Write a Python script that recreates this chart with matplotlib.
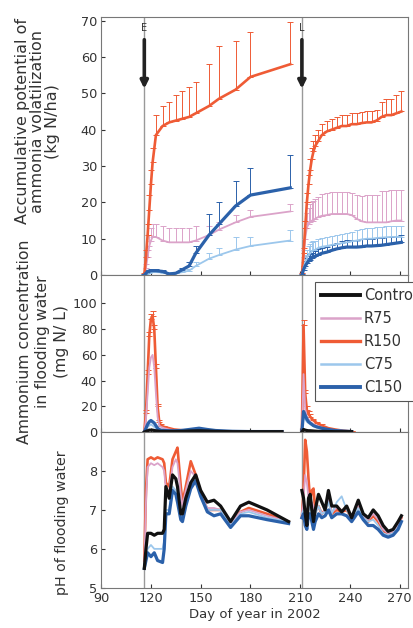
import matplotlib
matplotlib.use("Agg")
import matplotlib.pyplot as plt

# ---- accumulative NH3 volatilization (kg N/ha), early season ----
vol_days_e = [116, 117, 118, 119, 120, 121, 123, 127, 131, 135, 139, 143, 147, 155, 161, 171, 180, 204]
vol_e_R75 = [0, 2, 5, 8, 9.5, 10.5, 10.5, 9.5, 9, 9, 9, 9, 9.5, 11, 12.5, 14.5, 16, 17.5]
err_e_R75 = [0.3, 1, 2, 3, 3.5, 3.5, 3.5, 4, 4, 4, 4, 4, 4, 2.5, 2, 2, 2, 2]
vol_e_R150 = [0, 5, 11, 18, 25, 31, 38.5, 41, 42, 42.5, 43, 43.5, 44.5, 46.5, 48.5, 51, 54.5, 58]
err_e_R150 = [0.5, 2, 3, 4, 4, 4, 5.5, 5.5, 5.5, 7, 7.5, 8.3, 8.7, 11.5, 14.5, 13.5, 12.3, 11.5]
vol_e_C75 = [0, 0.3, 0.5, 0.7, 0.8, 0.8, 0.8, 0.7, 0.5, 0.5, 0.8, 1.2, 2.5, 4.5, 5.5, 7, 8, 9.5]
err_e_C75 = [0.2, 0.3, 0.3, 0.3, 0.3, 0.3, 0.3, 0.3, 0.3, 0.3, 0.4, 0.5, 1, 1.5, 2, 3.5, 2.5, 3]
vol_e_C150 = [0, 0.5, 1, 1, 1.2, 1.2, 1.2, 1, 0.3, 0.5, 1.5, 2.5, 6, 11, 14, 19, 22, 24]
err_e_C150 = [0.2, 0.3, 0.4, 0.4, 0.4, 0.4, 0.4, 0.4, 0.4, 0.4, 0.5, 1, 2, 5.8, 6, 7, 7.5, 9]

# ---- late season ----
vol_days_l = [211, 212, 213, 214, 215, 216, 217, 218, 219, 221, 223, 226, 229, 232, 235, 238, 241, 244, 247, 250, 253, 256, 259, 262, 265, 268, 271]
vol_l_R75 = [0, 5, 10, 13, 14, 14.5, 15, 15, 15.5, 16, 16.3, 16.5, 16.8, 16.8, 16.8, 16.8, 16.5, 15.5, 14.8, 14.5, 14.5, 14.5, 14.5, 14.5, 14.8, 15, 15]
err_l_R75 = [0.5, 2, 3, 4, 4.5, 5, 5, 5.5, 5.5, 5.5, 6, 6, 6, 6, 6, 6, 6, 6.5, 7, 7.5, 7.5, 7.5, 8.5, 8.5, 8.5, 8.5, 8.5]
vol_l_R150 = [0, 6, 13, 20, 25, 29, 32, 34, 35.5, 37, 38.5, 39.5, 40, 40.5, 41, 41, 41.5, 41.5, 41.8, 42, 42, 42.5, 43.5, 44, 44, 44.5, 45]
err_l_R150 = [0.5, 1.5, 2, 2.5, 2.5, 3, 3, 3, 3, 3, 3, 3, 3, 3, 3, 3, 3, 3, 3, 3, 3, 3, 4, 4.5, 4.5, 5, 5.5]
vol_l_C75 = [0, 2, 3.5, 4.5, 5.5, 6, 6.5, 6.8, 7, 7.5, 7.8, 8, 8.3, 8.5, 8.8, 9, 9.3, 9.5, 9.8, 10, 10, 10.2, 10.3, 10.4, 10.5, 10.5, 10.5]
err_l_C75 = [0.3, 1.5, 2, 2.5, 2.5, 2.5, 2.5, 2.5, 2.5, 2.5, 2.5, 2.5, 2.5, 2.5, 2.5, 2.5, 2.5, 3, 3, 3, 3, 3, 3, 3, 3, 3, 3]
vol_l_C150 = [0, 1.5, 2.5, 3.2, 3.8, 4.2, 4.6, 5, 5.2, 5.6, 6, 6.3, 6.8, 7.2, 7.5, 7.7, 7.7, 7.7, 7.8, 8, 8, 8.1, 8.2, 8.4, 8.6, 8.8, 9]
err_l_C150 = [0.3, 1, 1.5, 1.5, 1.5, 1.5, 1.5, 1.5, 1.5, 1.5, 1.5, 1.5, 1.5, 1.5, 1.8, 2, 2, 2, 2, 2, 2, 2, 2, 2, 2, 2, 2]

# ---- ammonium concentration in flooding water (mg N/L) ----
nh4_days_e = [116, 117, 118, 119, 120, 121, 122, 123, 124, 125, 126, 128, 131, 134, 138, 143, 149, 154, 159, 169, 179, 189, 199]
nh4_e_Control = [0, 0.5, 1, 1.5, 1.5, 1.5, 1.2, 1, 0.8, 0.6, 0.5, 0.5, 0.5, 0.5, 0.5, 0.8, 1, 0.8, 0.5, 0.3, 0.3, 0.3, 0.3]
nh4_e_R75 = [0, 10, 30, 50, 58, 60, 50, 30, 12, 5, 4, 3, 2, 1.5, 1, 1, 0.8, 0.5, 0.3, 0.2, 0.2, 0.2, 0.2]
nh4_e_R150 = [0, 15, 45, 75, 88, 90, 80, 50, 20, 8, 5, 4, 3, 2, 1.5, 1, 1, 0.8, 0.5, 0.3, 0.2, 0.2, 0.2]
nh4_e_C75 = [0, 2, 4, 5, 6, 5, 4, 3, 2, 1.5, 1.2, 1, 0.8, 0.8, 1, 1.5, 2, 1.5, 1, 0.5, 0.3, 0.3, 0.3]
nh4_e_C150 = [0, 3, 6, 8, 9, 8, 7, 5, 3, 2, 1.5, 1.2, 1, 1, 1.2, 2, 3, 2, 1.2, 0.6, 0.4, 0.4, 0.4]
nh4_err_e_R150 = [0, 2, 3, 3, 4, 4, 3, 3, 2, 1, 1, 1, 0.5, 0.5, 0, 0, 0, 0, 0, 0, 0, 0, 0]

nh4_days_l = [211, 212, 213, 214, 215, 216, 218, 220, 223, 227, 231, 236, 241]
nh4_l_Control = [0, 2, 1.5, 1.2, 1, 1, 0.8, 0.6, 0.5, 0.4, 0.3, 0.3, 0.3]
nh4_l_R75 = [0, 45, 18, 12, 10, 8, 6, 5, 3.5, 2, 1.5, 0.8, 0.4]
nh4_l_R150 = [0, 83, 30, 17, 14, 12, 9, 7, 5, 3, 2, 1, 0.5]
nh4_l_C75 = [0, 12, 10, 8, 7, 6, 4.5, 3.5, 2.5, 1.5, 1, 0.6, 0.3]
nh4_l_C150 = [0, 16, 13, 10, 8, 7, 5, 4, 3, 2, 1.2, 0.8, 0.4]
nh4_err_l_R150 = [0, 4, 3, 3, 2, 2, 1.5, 1, 1, 0.5, 0.5, 0, 0]

# ---- pH of flooding water ----
ph_days_e = [116, 117, 118, 120, 122, 124, 127, 128, 129, 131, 133, 135, 136, 138, 139, 141, 144, 147, 150, 154, 158, 162, 168, 174, 179, 190, 203]
ph_e_Control = [5.5, 6.0, 6.4, 6.4, 6.35, 6.4, 6.4, 6.5, 7.6, 7.3, 7.9, 7.8, 7.6, 6.9, 6.9, 7.3, 7.7, 7.9, 7.5, 7.2, 7.25, 7.1, 6.7, 7.1, 7.2, 7.0, 6.7]
ph_e_R75 = [5.6, 7.2, 8.1, 8.2, 8.15, 8.2, 8.1, 8.0, 7.5, 7.5, 8.1, 8.3, 8.2, 7.4, 7.1, 7.5, 8.0, 7.85, 7.4, 7.05, 7.05, 7.0, 6.65, 6.95, 7.0, 6.85, 6.7]
ph_e_R150 = [5.7, 7.5, 8.3, 8.35, 8.3, 8.35, 8.3, 8.2, 7.7, 7.6, 8.3, 8.5, 8.6, 7.6, 7.2, 7.6, 8.25, 7.9, 7.45, 7.0, 7.0, 7.0, 6.65, 6.95, 7.05, 6.9, 6.7]
ph_e_C75 = [5.6, 5.8, 6.0, 6.1, 6.0, 6.0, 6.0, 6.2, 7.0, 7.0, 7.6, 7.5, 7.3, 6.8, 6.75, 7.1, 7.6, 7.8, 7.4, 7.0, 7.0, 7.0, 6.6, 6.9, 6.95, 6.8, 6.7]
ph_e_C150 = [5.5, 5.7, 5.9, 5.8, 5.9, 5.7, 5.65, 6.0, 6.9, 6.9, 7.5, 7.4, 7.2, 6.75, 6.7, 7.1, 7.55, 7.75, 7.35, 6.95, 6.85, 6.9, 6.55, 6.85, 6.85, 6.75, 6.65]

ph_days_l = [211, 212, 213, 214, 215, 216, 217, 218, 219, 221, 223, 225, 227, 229, 232, 235, 238, 241, 245, 248, 251, 254, 257, 260, 263, 266, 269, 271]
ph_l_Control = [7.5, 7.3, 6.9, 6.6, 7.3, 7.4, 7.0, 6.7, 7.0, 7.4, 7.2, 7.0, 7.5, 7.1, 7.1, 6.95, 7.1, 6.8, 7.25, 6.9, 6.8, 7.0, 6.85, 6.6, 6.45, 6.5, 6.7, 6.85]
ph_l_R75 = [6.9, 7.3, 7.9, 7.7, 7.3, 7.1, 7.2, 7.1, 6.9, 7.1, 6.9, 7.0, 7.3, 6.95, 7.05, 7.0, 7.05, 6.8, 7.15, 6.85, 6.75, 6.9, 6.75, 6.5, 6.4, 6.45, 6.6, 6.8]
ph_l_R150 = [6.8, 7.5, 8.8, 8.5, 7.8, 7.2, 7.5, 7.55, 7.0, 7.1, 6.9, 7.0, 7.3, 6.9, 7.0, 6.95, 7.0, 6.8, 7.1, 6.85, 6.7, 6.85, 6.7, 6.45, 6.4, 6.45, 6.6, 6.8]
ph_l_C75 = [6.9, 7.0, 6.8, 6.7, 7.0, 7.1, 6.8, 6.7, 6.9, 7.1, 6.9, 6.95, 7.2, 6.9, 7.2, 7.35, 7.0, 6.8, 7.05, 6.8, 6.7, 6.75, 6.6, 6.4, 6.35, 6.4, 6.55, 6.7]
ph_l_C150 = [6.8, 6.9, 6.6, 6.5, 6.9, 6.9, 6.7, 6.5, 6.7, 6.9, 6.8, 6.85, 7.0, 6.8, 6.9, 6.9, 6.85, 6.7, 6.95, 6.75, 6.6, 6.6, 6.5, 6.35, 6.3, 6.35, 6.5, 6.7]

treatments = ["Control", "R75", "R150", "C75", "C150"]
colors = {"Control": "#111111", "R75": "#dba3c9", "R150": "#ef5b35", "C75": "#9cc7ec", "C150": "#2b61aa"}
widths = {"Control": 2.3, "R75": 1.3, "R150": 1.9, "C75": 1.3, "C150": 2.3}
fert_days = [116, 211]
fert_marks = ["E", "L"]

plt.rcParams['font.family'] = ['DejaVu Sans']
txt = "#333333"

fig = plt.figure(figsize=(4.13, 6.28), dpi=100)
left, width = 0.245, 0.743
ax1 = fig.add_axes([left, 0.562, width, 0.411])
ax2 = fig.add_axes([left, 0.312, width, 0.250], sharex=ax1)
ax3 = fig.add_axes([left, 0.064, width, 0.248], sharex=ax1)


def upper_err(ax, x, y, e, name):
    ax.errorbar(x, y, yerr=[[0] * len(e), e], fmt='none', ecolor=colors[name],
                elinewidth=0.7, capsize=2.5, capthick=0.7, zorder=2)


# top panel
for name, ye, ee, yl, el in [
        ("R75", vol_e_R75, err_e_R75, vol_l_R75, err_l_R75),
        ("R150", vol_e_R150, err_e_R150, vol_l_R150, err_l_R150),
        ("C75", vol_e_C75, err_e_C75, vol_l_C75, err_l_C75),
        ("C150", vol_e_C150, err_e_C150, vol_l_C150, err_l_C150)]:
    upper_err(ax1, vol_days_e, ye, ee, name)
    upper_err(ax1, vol_days_l, yl, el, name)
    ax1.plot(vol_days_e, ye, color=colors[name], lw=widths[name], zorder=3)
    ax1.plot(vol_days_l, yl, color=colors[name], lw=widths[name], zorder=3)

# middle panel
nh4_e = {"Control": nh4_e_Control, "R75": nh4_e_R75, "R150": nh4_e_R150, "C75": nh4_e_C75, "C150": nh4_e_C150}
nh4_l = {"Control": nh4_l_Control, "R75": nh4_l_R75, "R150": nh4_l_R150, "C75": nh4_l_C75, "C150": nh4_l_C150}
upper_err(ax2, nh4_days_e, nh4_e_R150, nh4_err_e_R150, "R150")
upper_err(ax2, nh4_days_l, nh4_l_R150, nh4_err_l_R150, "R150")
for name in ["R150", "R75", "C75", "C150", "Control"]:
    ax2.plot(nh4_days_e, nh4_e[name], color=colors[name], lw=widths[name], zorder=3)
    ax2.plot(nh4_days_l, nh4_l[name], color=colors[name], lw=widths[name], zorder=3)

# bottom panel
ph_e = {"Control": ph_e_Control, "R75": ph_e_R75, "R150": ph_e_R150, "C75": ph_e_C75, "C150": ph_e_C150}
ph_l = {"Control": ph_l_Control, "R75": ph_l_R75, "R150": ph_l_R150, "C75": ph_l_C75, "C150": ph_l_C150}
for name in ["R150", "R75", "C75", "C150", "Control"]:
    ax3.plot(ph_days_e, ph_e[name], color=colors[name], lw=widths[name], zorder=3)
    ax3.plot(ph_days_l, ph_l[name], color=colors[name], lw=widths[name], zorder=3)

# fertilization lines and arrows
for ax in (ax1, ax2, ax3):
    for d in fert_days:
        ax.axvline(d, color="#999999", lw=1.0, zorder=1)
for d, m in zip(fert_days, fert_marks):
    ax1.annotate("", xy=(d, 50.5), xytext=(d, 65.5),
                 arrowprops=dict(arrowstyle="-|>", color="#222222", lw=2.6, mutation_scale=11))
    ax1.text(d, 66.5, m, ha="center", va="bottom", fontsize=7, color=txt)

ax1.set_xlim(90, 275)
ax1.set_ylim(0, 71)
ax1.set_yticks(range(0, 71, 10))
ax2.set_ylim(0, 122)
ax2.set_yticks(range(0, 101, 20))
ax3.set_ylim(5, 9)
ax3.set_yticks([5, 6, 7, 8])
ax3.set_xticks(range(90, 271, 30))
ax3.set_xlabel("Day of year in 2002", fontsize=9.5, color=txt, labelpad=2)

for ax in (ax1, ax2, ax3):
    ax.tick_params(direction="in", length=3, labelsize=9.3, colors=txt, pad=3)
    for s in ax.spines.values():
        s.set_color("#777777")
        s.set_linewidth(0.8)
for ax in (ax1, ax2):
    ax.tick_params(labelbottom=False)

fig.text(0.091, 0.807, "Accumulative potential of\nammonia volatilization\n(kg N/ha)",
         rotation=90, ha="center", va="center", fontsize=11.5, color=txt, linespacing=1.0)
fig.text(0.104, 0.456, "Ammonium concentration\nin flooding water\n(mg N/ L)",
         rotation=90, ha="center", va="center", fontsize=11.3, color=txt, linespacing=1.3)
fig.text(0.15, 0.167, "pH of flooding water",
         rotation=90, ha="center", va="center", fontsize=10.3, color=txt)

handles = [plt.Line2D([], [], color=colors[n], lw=widths[n] + 0.5) for n in treatments]
leg = ax2.legend(handles, treatments, loc="upper left", bbox_to_anchor=(0.697, 0.955),
                 fontsize=10.5, frameon=True, fancybox=False, framealpha=1,
                 handlelength=2.7, handletextpad=0.25, labelspacing=0.55,
                 borderpad=0.4, borderaxespad=0)
leg.get_frame().set_edgecolor("#555555")
leg.get_frame().set_linewidth(0.8)
for t in leg.get_texts():
    t.set_color(txt)

fig.savefig("out.png", dpi=100)
